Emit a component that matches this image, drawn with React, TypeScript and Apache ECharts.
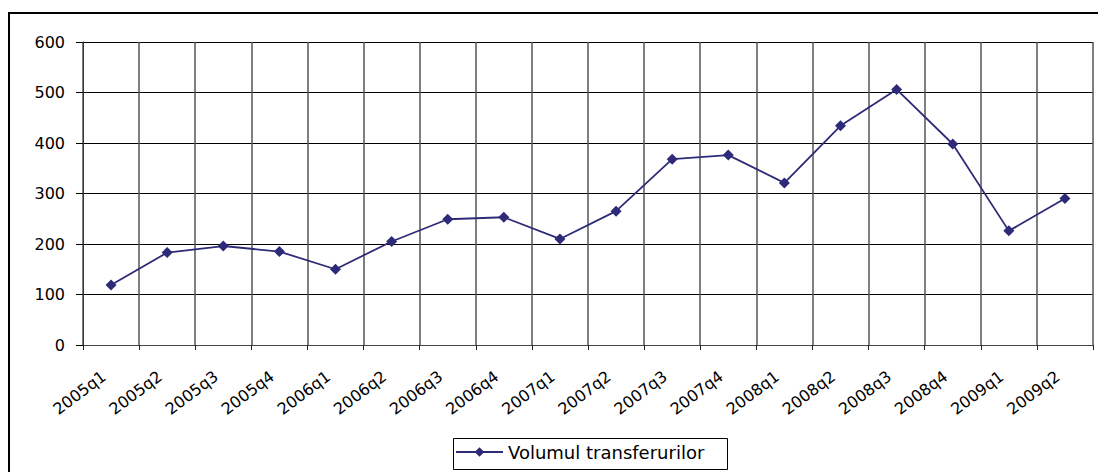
import React, { useEffect, useRef } from "react";
import * as echarts from "echarts";

const categories = [
  "2005q1", "2005q2", "2005q3", "2005q4",
  "2006q1", "2006q2", "2006q3", "2006q4",
  "2007q1", "2007q2", "2007q3", "2007q4",
  "2008q1", "2008q2", "2008q3", "2008q4",
  "2009q1", "2009q2",
];
const volumulTransferurilor = [
  119, 183, 196, 185, 150, 205, 249, 253, 210, 265, 368, 376, 321, 434, 506, 398, 226, 290,
];
const seriesName = "Volumul transferurilor";
const yMin = 0;
const yMax = 600;
const yInterval = 100;

const LINE_COLOR = "#2d2b78";
const FONT = "DejaVu Sans";

export default function App() {
  const ref = useRef<HTMLDivElement>(null);
  useEffect(() => {
    if (!ref.current) return;
    const chart = echarts.init(ref.current, null, { renderer: "svg" });
    chart.setOption({
      animation: false,
      backgroundColor: "#fff",
      grid: { left: 83, right: 5, top: 42, bottom: 127, containLabel: false },
      xAxis: {
        type: "category",
        data: categories,
        boundaryGap: true,
        axisLine: { show: true, lineStyle: { color: "#444", width: 1 } },
        axisTick: { show: true, length: 5, lineStyle: { color: "#222" } },
        splitLine: { show: true, lineStyle: { color: "#555", width: 1.5 } },
        axisLabel: {
          interval: 0,
          rotate: 37,
          margin: 24,
          align: "right",
          padding: [0, 9, 0, 0],
          color: "#000",
          fontFamily: FONT,
          fontSize: 16,
        },
      },
      yAxis: {
        type: "value",
        min: yMin,
        max: yMax,
        interval: yInterval,
        axisLine: { show: true, lineStyle: { color: "#333", width: 1 } },
        axisTick: { show: true, length: 7, lineStyle: { color: "#000" } },
        splitLine: { show: true, lineStyle: { color: "#000", width: 1 } },
        axisLabel: {
          margin: 18,
          color: "#000",
          fontFamily: FONT,
          fontSize: 16,
        },
      },
      legend: {
        show: true,
        left: 455,
        top: 443,
        padding: 0,
        itemWidth: 47,
        itemHeight: 12,
        itemGap: 5,
        textStyle: { color: "#000", fontFamily: FONT, fontSize: 18 },
        data: [seriesName],
      },
      graphic: [
        {
          type: "rect",
          shape: { x: 453.5, y: 438.5, width: 274, height: 31 },
          style: { fill: "none", stroke: "#000", lineWidth: 1 },
          silent: true,
        },
        {
          type: "line",
          shape: { x1: 8, y1: 13, x2: 1098, y2: 13 },
          style: { stroke: "#000", lineWidth: 2 },
          silent: true,
        },
        {
          type: "line",
          shape: { x1: 9, y1: 12, x2: 9, y2: 472 },
          style: { stroke: "#000", lineWidth: 2 },
          silent: true,
        },
      ],
      series: [
        {
          name: seriesName,
          type: "line",
          data: volumulTransferurilor,
          symbol: "diamond",
          symbolSize: 11,
          itemStyle: { color: LINE_COLOR },
          lineStyle: { color: LINE_COLOR, width: 1.8 },
        },
      ],
    });
    return () => chart.dispose();
  }, []);
  return (
    <div
      ref={ref}
      style={{ position: "absolute", left: 0, top: 0, width: 1098, height: 472 }}
    />
  );
}
